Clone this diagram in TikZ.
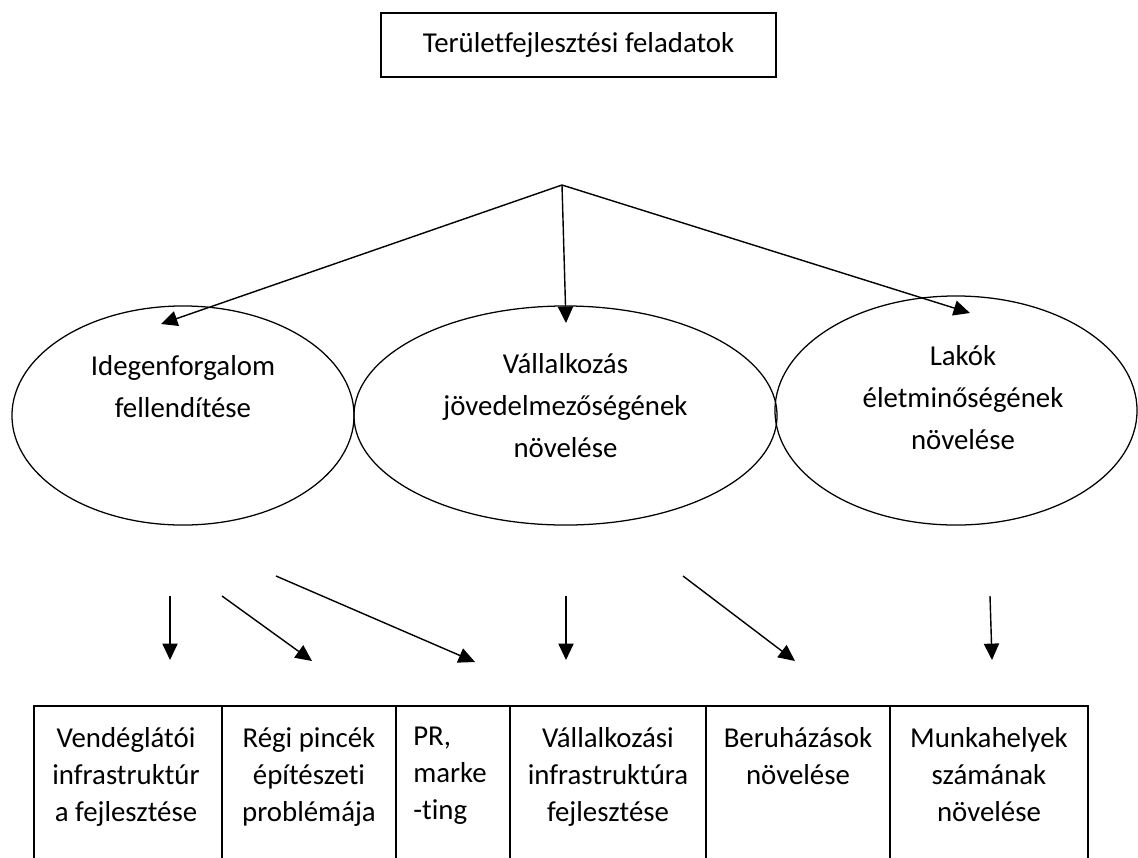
\documentclass[tikz,border=0pt]{standalone}
\usepackage{fontspec}
\setmainfont{Carlito}[Ligatures=NoCommon]
\usetikzlibrary{positioning,shapes.geometric,arrows.meta}

\tikzset{
    goal/.style={draw, ellipse, line width=.9pt, inner sep=0pt},
    say/.style={align=center, inner sep=0pt, font=\fontsize{20.5}{29.9}\selectfont},
    cellsay/.style={align=center, anchor=north, inner sep=0pt, font=\fontsize{20.5}{26.3}\selectfont},
    arr/.style={-{Triangle[length=.41cm,width=.38cm]}, line width=1pt},
}

\begin{document}
\begin{tikzpicture}[x=0.025cm, y=-0.025cm]
    \clip (0,0) rectangle (1138,857);

    \node[draw, line width=1pt, minimum width=9.875cm, minimum height=1.6cm, say] (task) at (578.5,45) {Területfejlesztési feladatok};
    \coordinate (apex) at (562,185);

    \node[goal, minimum width=8.55cm, minimum height=5.475cm] (ide) at (183,415.5) {};
    \node[goal, minimum width=10.575cm, minimum height=5.475cm] (vall) at (565.5,415.5) {};
    \node[goal, minimum width=9.05cm, minimum height=5.725cm] (lak) at (956,410.5) {};
    \node[say] (idetxt) at (183,386.5) {Idegenforgalom\\fellendítése};
    \node[say] (valltxt) at (565.5,406) {Vállalkozás\\jövedelmezőségének\\növelése};
    \node[say] (laktxt) at (963,398) {Lakók\\életminőségének\\növelése};

    \coordinate (idetip) at (161,324);
    \coordinate (valltip) at (566,323);
    \coordinate (laktip) at (970,313);
    \draw[arr] (apex) -- (idetip);
    \draw[arr] (apex) -- (valltip);
    \draw[arr] (apex) -- (laktip);

    % nyilak a tablazat fole
    \foreach \n/\sx/\sy/\ex/\ey in {1/170/596/170/660, 2/222/596/312/661, 3/276/576/475/662,
        4/566/596/566/660, 5/683/576/795/661, 6/990/596/992/660} {
        \coordinate (s\n) at (\sx,\sy);
        \coordinate (e\n) at (\ex,\ey);
        \draw[arr] (s\n) -- (e\n);
    }

    \draw[line width=1.1pt] (34,706) rectangle (1088,880);
    \foreach \x in {222,396,510,706,890}
        \draw[line width=1.1pt] (\x,706) -- (\x,880);

    \node[cellsay] (vend) at (126,727) {Vendéglátói\\infrastruktúr\\a fejlesztése};
    \node[cellsay] (pince) at (309,727) {Régi pincék\\építészeti\\problémája};
    \node[cellsay, anchor=north west, align=left] (pr) at (413,727) {PR,\\marke\\-ting};
    \node[cellsay] (infra) at (608,727) {Vállalkozási\\infrastruktúra\\fejlesztése};
    \node[cellsay] (beru) at (798,727) {Beruházások\\növelése};
    \node[cellsay] (munka) at (989,727) {Munkahelyek\\számának\\növelése};
\end{tikzpicture}
\end{document}
